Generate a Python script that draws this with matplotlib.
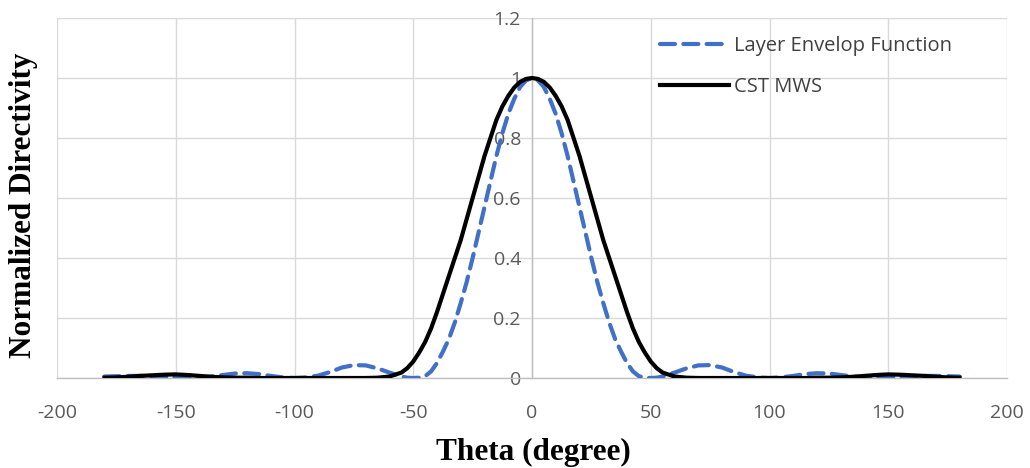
import matplotlib
matplotlib.use("Agg")
import matplotlib.pyplot as plt

theta = [-180, -175, -170, -165, -160, -155, -150, -145, -140, -135, -130, -125, -120,
         -115, -110, -105, -100, -95, -90, -85, -80, -75, -70, -65, -60,
         -55, -52.5, -50, -47.5, -45, -42.5, -40, -37.5, -35, -32.5, -30, -27.5,
         -25, -22.5, -20, -17.5, -15, -12.5, -10, -7.5, -5, -2.5, 0,
         2.5, 5, 7.5, 10, 12.5, 15, 17.5, 20, 22.5, 25, 27.5, 30, 32.5, 35,
         37.5, 40, 42.5, 45, 47.5, 50, 52.5, 55,
         60, 65, 70, 75, 80, 85, 90, 95, 100, 105, 110, 115, 120, 125, 130,
         135, 140, 145, 150, 155, 160, 165, 170, 175, 180]

layer_envelope = [0.005, 0.006, 0.007, 0.007, 0.006, 0.004, 0.002, 0.001, 0.002, 0.005,
                  0.010, 0.015, 0.016, 0.013, 0.007, 0.002, 0.000, 0.002, 0.008, 0.020,
                  0.035, 0.043, 0.042, 0.032, 0.018,
                  0.005, 0.001, 0.000, 0.001, 0.006, 0.022, 0.05, 0.088, 0.13, 0.185,
                  0.25, 0.32, 0.40, 0.485, 0.57, 0.655, 0.74, 0.815, 0.88, 0.93, 0.97,
                  0.992, 1.00,
                  0.992, 0.97, 0.93, 0.88, 0.815, 0.74, 0.655, 0.57, 0.485, 0.40, 0.32,
                  0.25, 0.185, 0.13, 0.088, 0.05, 0.022, 0.006, 0.001, 0.000, 0.001,
                  0.005,
                  0.018, 0.032, 0.042, 0.043, 0.035, 0.020, 0.008, 0.002, 0.000, 0.002,
                  0.007, 0.013, 0.016, 0.015, 0.010, 0.005, 0.002, 0.001, 0.002, 0.004,
                  0.006, 0.007, 0.007, 0.006, 0.005]

cst_mws = [0.001, 0.002, 0.004, 0.007, 0.009, 0.011, 0.012, 0.010, 0.007, 0.004,
           0.002, 0.001, 0.001, 0.000, 0.000, 0.000, 0.000, 0.000, 0.000, 0.000,
           0.000, 0.000, 0.000, 0.001, 0.005,
           0.018, 0.033, 0.055, 0.085, 0.12, 0.165, 0.22, 0.28, 0.34, 0.40,
           0.46, 0.53, 0.60, 0.67, 0.74, 0.80, 0.86, 0.905, 0.94, 0.968, 0.987,
           0.997, 1.00,
           0.997, 0.987, 0.968, 0.94, 0.905, 0.86, 0.80, 0.74, 0.67, 0.60, 0.53,
           0.46, 0.40, 0.34, 0.28, 0.22, 0.165, 0.12, 0.085, 0.055, 0.033, 0.018,
           0.005, 0.001, 0.000, 0.000, 0.000, 0.000, 0.000, 0.000, 0.000, 0.000,
           0.000, 0.000, 0.001, 0.001, 0.002, 0.004, 0.007, 0.010, 0.012, 0.011,
           0.009, 0.007, 0.004, 0.002, 0.001]

x_ticks = [-200, -150, -100, -50, 0, 50, 100, 150, 200]
y_ticks = [0, 0.2, 0.4, 0.6, 0.8, 1.0, 1.2]
x_ticklabels = ["-200", "-150", "-100", "-50", "0", "50", "100", "150", "200"]
y_ticklabels = ["0", "0.2", "0.4", "0.6", "0.8", "1", "1.2"]

fig = plt.figure(figsize=(10.3, 4.68), dpi=100)
ax = fig.add_axes([57 / 1030, 90 / 468, 950 / 1030, 360 / 468])

blue = "#4070c8"
ax.plot(theta, layer_envelope, color=blue, lw=3.0, dashes=(3.6, 2.0),
        label="Layer Envelop Function", zorder=4, dash_capstyle="round")
ax.plot(theta, cst_mws, color="black", lw=3.0, label="CST MWS", zorder=5,
        solid_joinstyle="round")

ax.set_xlim(-200, 200)
ax.set_ylim(0, 1.2)
ax.set_xticks(x_ticks)
ax.set_xticklabels(x_ticklabels)
ax.set_yticks(y_ticks)
ax.set_yticklabels(y_ticklabels)

gridc = "#d9d9d9"
ax.grid(True, color=gridc, lw=1.0, zorder=0)
ax.set_axisbelow(True)
for s in ["top", "right"]:
    ax.spines[s].set_visible(False)
ax.spines["left"].set_position(("data", 0))
ax.spines["left"].set_color("#bfbfbf")
ax.spines["bottom"].set_color("#bfbfbf")
ax.spines["left"].set_linewidth(1.0)
ax.spines["bottom"].set_linewidth(1.0)

tickfont = "Open Sans"
ax.tick_params(axis="x", length=0, pad=19, labelsize=14, labelcolor="#595959")
ax.tick_params(axis="y", length=0, pad=8, labelsize=14, labelcolor="#595959")
for lab in ax.get_xticklabels() + ax.get_yticklabels():
    lab.set_fontfamily(tickfont)

fig.text(533 / 1030, 1 - 452 / 468, "Theta (degree)", fontfamily="Liberation Serif",
         fontweight="bold", fontsize=22.5, ha="center", va="center")
fig.text(24 / 1030, 1 - 205 / 468, "Normalized Directivity", rotation=90,
         fontfamily="Liberation Serif", fontweight="bold", fontsize=22.5,
         ha="center", va="center")

leg = ax.legend(loc="upper left", bbox_to_anchor=(595 / 950, 1 - 10 / 360),
                frameon=False, prop={"family": "Open Sans", "size": 14.5},
                handlelength=3.4, handletextpad=0.25, labelspacing=1.05,
                borderaxespad=0)
for t in leg.get_texts():
    t.set_color("#404040")

fig.savefig("out.png", dpi=100, facecolor="white")
